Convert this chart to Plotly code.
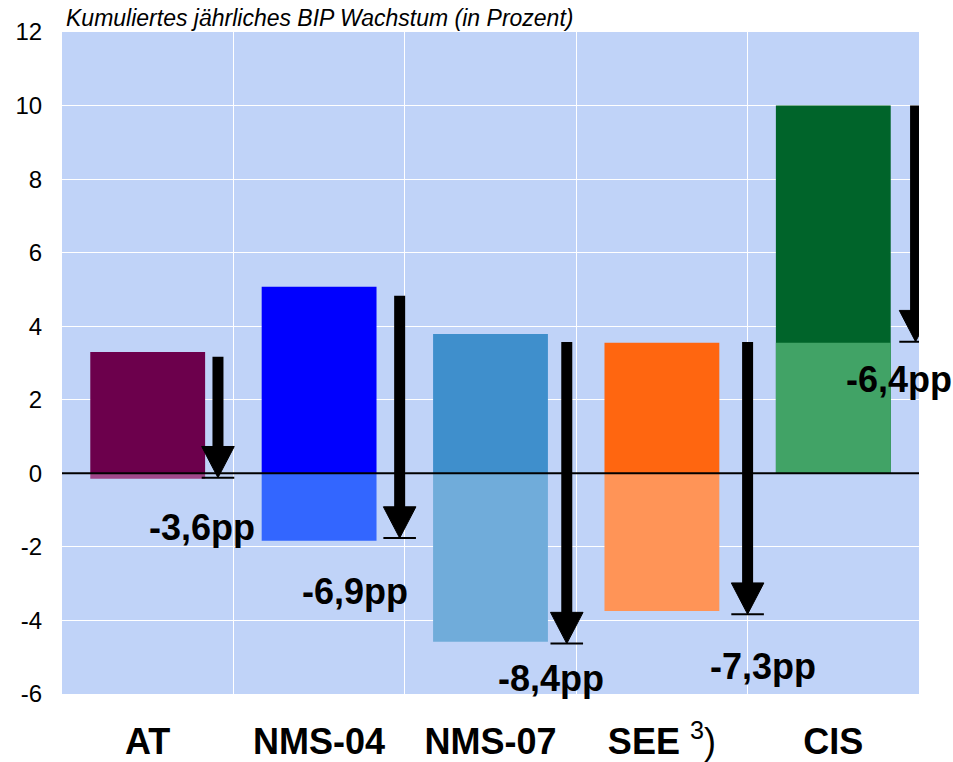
import plotly.graph_objects as go

# ---- data ----
categories = ["AT", "NMS-04", "NMS-07", "SEE", "CIS"]
tick_labels = ["<b>AT</b>", "<b>NMS-04</b>", "<b>NMS-07</b>",
               "<b>SEE</b> <sup>3</sup>)", "<b>CIS</b>"]
growth_pre = [3.30, 5.07, 3.79, 3.55, 10.0]
growth_post = [-0.15, -1.83, -4.58, -3.74, 3.55]
arrow_start = [3.17, 4.83, 3.57, 3.57, 10.0]
arrow_end = [-0.12, -1.76, -4.63, -3.83, 3.58]
change_labels = ["-3,6pp", "-6,9pp", "-8,4pp", "-7,3pp", "-6,4pp"]
y_ticks = [-6, -4, -2, 0, 2, 4, 6, 8, 10, 12]
y_tick_labels = ["-6", "-4", "-2", "0", "2", "4", "6", "8", "10", "12"]

# ---- styling ----
colors_dark = ["#6C004C", "#0000FF", "#3F8FCC", "#FF6610", "#00642A"]
colors_light = ["#A0478A", "#3366FF", "#70ACDA", "#FF9457", "#41A366"]
arrow_dx = [0.41, 0.47, 0.445, 0.50, 0.48]     # arrow offset from category centre
label_xshift = [-16, -45, -16, 15, -17]
label_yshift = [-50, -53, -35, -52, -38]
head_hw = 0.095     # arrow head half width (x units)
head_h = 0.85       # arrow head height (y units)
FONT = "Arial, Liberation Sans, sans-serif"

xs = list(range(len(categories)))
ax = [x + d for x, d in zip(xs, arrow_dx)]

fig = go.Figure()
fig.add_trace(go.Bar(x=xs, y=growth_pre, width=0.67,
                     marker=dict(color=colors_dark, line=dict(width=0)),
                     hoverinfo="skip"))
fig.add_trace(go.Bar(x=xs, y=growth_post, width=0.67,
                     marker=dict(color=colors_light, line=dict(width=0)),
                     hoverinfo="skip"))

# arrow shafts
sx, sy = [], []
for x, s, e in zip(ax, arrow_start, arrow_end):
    sx += [x, x, None]
    sy += [s, e + head_h * 0.8, None]
fig.add_trace(go.Scatter(x=sx, y=sy, mode="lines",
                         line=dict(color="black", width=11),
                         hoverinfo="skip"))
# arrow heads
hx, hy = [], []
for x, e in zip(ax, arrow_end):
    hx += [x - head_hw, x + head_hw, x, x - head_hw, None]
    hy += [e + head_h, e + head_h, e, e + head_h, None]
fig.add_trace(go.Scatter(x=hx, y=hy, mode="lines", fill="toself",
                         fillcolor="black", line=dict(color="black", width=1),
                         hoverinfo="skip"))
# end ticks
tx, ty = [], []
for x, e in zip(ax, arrow_end):
    tx += [x - head_hw, x + head_hw, None]
    ty += [e, e, None]
fig.add_trace(go.Scatter(x=tx, y=ty, mode="lines",
                         line=dict(color="black", width=2),
                         hoverinfo="skip"))

for i in range(len(categories)):
    fig.add_annotation(x=ax[i], y=arrow_end[i], text=f"<b>{change_labels[i]}</b>",
                       showarrow=False, xshift=label_xshift[i], yshift=label_yshift[i],
                       font=dict(family=FONT, size=36, color="black"))

fig.add_annotation(xref="paper", yref="paper", x=0, y=1, xanchor="left", yanchor="bottom",
                   xshift=2, yshift=-1, showarrow=False,
                   text="<i>Kumuliertes jährliches BIP Wachstum (in Prozent)</i>",
                   font=dict(family=FONT, size=23, color="black"))

fig.add_shape(type="line", xref="paper", yref="y", x0=0, x1=1, y0=0, y1=0,
              line=dict(color="black", width=2), layer="above")

fig.update_layout(
    width=953, height=762,
    margin=dict(l=62, r=34, t=32, b=68),
    paper_bgcolor="white", plot_bgcolor="#C0D3F8",
    barmode="overlay", showlegend=False,
    font=dict(family=FONT, color="black"),
    xaxis=dict(range=[-0.5, 4.5], tickmode="array", tickvals=xs, ticktext=tick_labels,
               tickfont=dict(size=36, family=FONT), showgrid=False, zeroline=False,
               automargin=False,
               ticks="outside", ticklen=16, tickcolor="rgba(0,0,0,0)",
               minor=dict(tick0=0.5, dtick=1, showgrid=True, gridcolor="white",
                          gridwidth=1, ticks="")),
    yaxis=dict(range=[-6, 12], tickmode="array", tickvals=y_ticks, ticktext=y_tick_labels,
               tickfont=dict(size=24, family=FONT), showgrid=True, gridcolor="white",
               gridwidth=1, zeroline=False, ticks="outside", ticklen=14,
               automargin=False, tickcolor="rgba(0,0,0,0)"),
)

fig.write_html("out.html", config={"displayModeBar": False},
               post_script="document.body.style.margin='0';document.body.style.padding='0';")
